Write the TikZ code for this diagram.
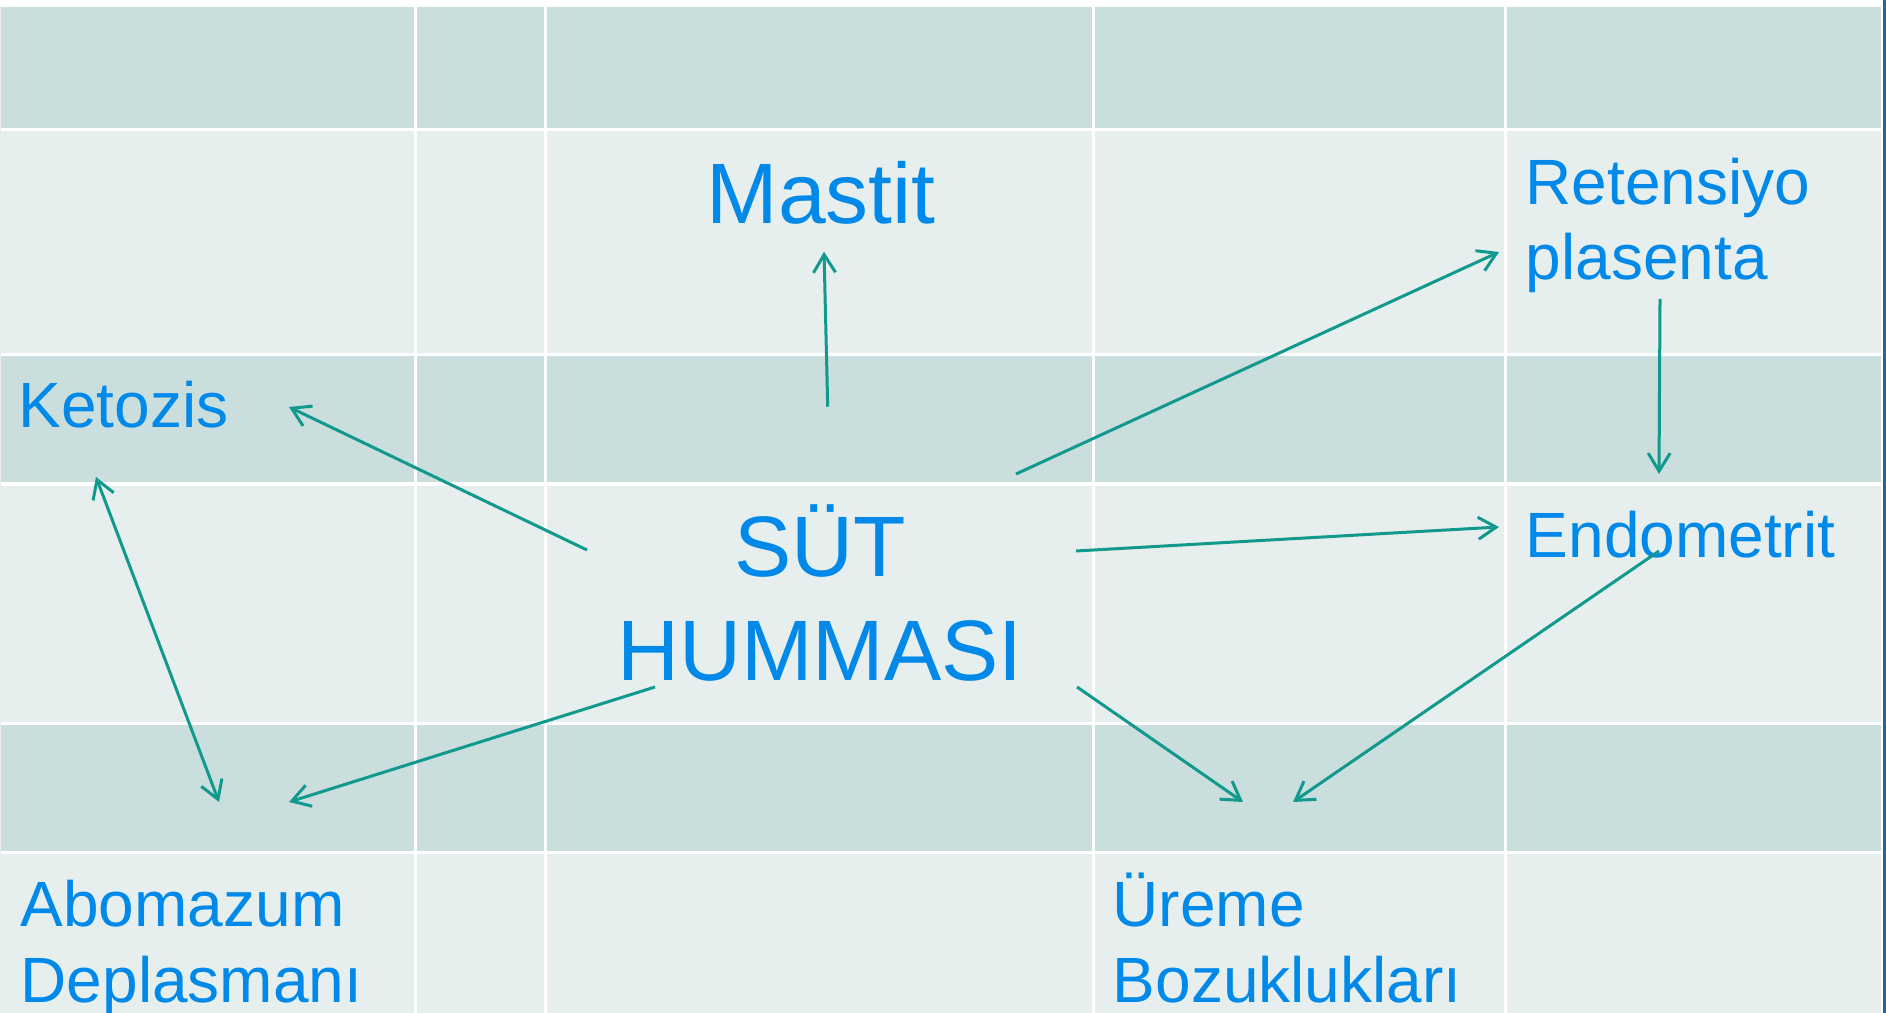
\documentclass[tikz,border=0pt]{standalone}
\usepackage{fontspec}
\setmainfont{Liberation Sans}
\usetikzlibrary{arrows.meta}

\definecolor{rowdark}{HTML}{CADEDD}
\definecolor{rowlight}{HTML}{E6EFEE}
\definecolor{labelblue}{HTML}{0089E8}
\definecolor{linkteal}{HTML}{11998E}
\definecolor{edgeblue}{HTML}{1A64B4}

\tikzset{
  gridline/.style={white, line width=0.03cm},
  lbl/.style={text=labelblue, inner sep=0pt, align=left, anchor=base west,
    font=\fontsize{18.2pt}{21.6pt}\selectfont},
  biglbl/.style={text=labelblue, inner sep=0pt, align=center, anchor=base,
    font=\fontsize{24.4pt}{29.3pt}\selectfont},
  link/.style={linkteal, line width=0.03cm,
    -{Straight Barb[length=0.18cm, width=0.22cm]}},
  link2/.style={linkteal, line width=0.03cm,
    {Straight Barb[length=0.18cm, width=0.22cm]}-{Straight Barb[length=0.18cm, width=0.22cm]}}
}

\begin{document}
\begin{tikzpicture}[x=0.01cm, y=-0.01cm]
  % canvas
  \useasboundingbox (0,0) rectangle (1886,1013);
  \fill[white] (0,0) rectangle (1886,1013);

  % banded table rows
  \fill[rowdark]  (0,7)   rectangle (1881,130);
  \fill[rowlight] (0,130) rectangle (1881,355);
  \fill[rowdark]  (0,355) rectangle (1881,484);
  \fill[rowlight] (0,484) rectangle (1881,723);
  \fill[rowdark]  (0,723) rectangle (1881,852);
  \fill[rowlight] (0,852) rectangle (1881,1013);

  % cell borders
  \foreach \y in {130,355,484,723,852}
    \draw[gridline] (0,\y) -- (1881,\y);
  \foreach \x in {415,545,1093,1505}
    \draw[gridline] (\x,7) -- (\x,1013);
  \draw[white!85!gray, line width=0.01cm] (0.5,7) -- (0.5,1013);

  % right edge rule
  \fill[edgeblue] (1882.5,0) rectangle (1886,1013);

  % labels (multi-line labels are placed by their last baseline)
  \node[biglbl] (mastit) at (821,224) {Mastit};
  \node[biglbl] (sut) at (820,680) {SÜT\\HUMMASI};
  \node[lbl] (ketozis) at (18,428) {Ketozis};
  \node[lbl] (retensiyo) at (1525,280) {Retensiyo\\plasenta};
  \node[lbl] (endometrit) at (1525,557) {Endometrit};
  \node[lbl] (abomazum) at (20,1002) {Abomazum\\Deplasmanı};
  \node[lbl] (ureme) at (1112,1002) {Üreme\\Bozuklukları};

  % connector end points
  \coordinate (sutTop)    at (827.7,406.7);
  \coordinate (mastitIn)  at (824,251.7);
  \coordinate (sutLeft)   at (587,550);
  \coordinate (ketozisIn) at (289,407);
  \coordinate (ketozisLo) at (96,477);
  \coordinate (abomUp)    at (219,802);
  \coordinate (sutLowL)   at (655,687);
  \coordinate (abomRt)    at (289,802);
  \coordinate (sutUpR)    at (1016,474);
  \coordinate (retIn)     at (1499,252);
  \coordinate (sutRight)  at (1076,551);
  \coordinate (endoIn)    at (1499,527);
  \coordinate (retOut)    at (1660,299);
  \coordinate (endoTop)   at (1659,474);
  \coordinate (sutLowR)   at (1077,687);
  \coordinate (uremeL)    at (1243,802);
  \coordinate (endoOut)   at (1659,551);
  \coordinate (uremeR)    at (1293,802);

  % connectors
  \draw[link]  (sutTop) -- (mastitIn);
  \draw[link]  (sutLeft) -- (ketozisIn);
  \draw[link2] (ketozisLo) -- (abomUp);
  \draw[link]  (sutLowL) -- (abomRt);
  \draw[link]  (sutUpR) -- (retIn);
  \draw[link]  (sutRight) -- (endoIn);
  \draw[link]  (retOut) -- (endoTop);
  \draw[link]  (sutLowR) -- (uremeL);
  \draw[link]  (endoOut) -- (uremeR);
\end{tikzpicture}
\end{document}
